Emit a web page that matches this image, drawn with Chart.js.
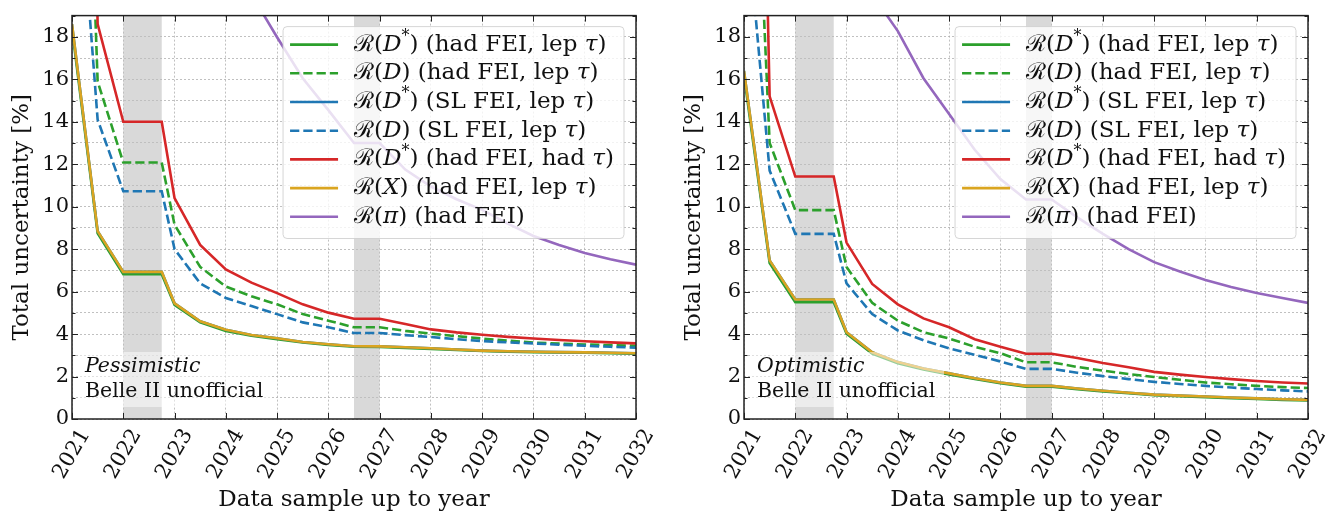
<!DOCTYPE html>
<html>
<head>
<meta charset="utf-8">
<script src="https://cdn.jsdelivr.net/npm/chart.js@4.4.0/dist/chart.umd.min.js"></script>
<style>
  body { margin: 0; background: #fff; }
  .wrap { display: flex; width: 1344px; height: 519px; }
  canvas { display: block; }
</style>
</head>
<body>
<div class="wrap">
  <canvas id="pessChart" width="672" height="519"></canvas>
  <canvas id="optChart" width="672" height="519"></canvas>
</div>
<script>
// x positions of the projection points (years)
const years = [2021, 2021.5, 2022, 2022.75, 2023, 2023.5, 2024, 2024.5, 2025, 2025.5, 2026, 2026.5,
               2027, 2027.5, 2028, 2028.5, 2029, 2029.5, 2030, 2030.5, 2031, 2031.5, 2032];
const yearTicks = [2021, 2022, 2023, 2024, 2025, 2026, 2027, 2028, 2029, 2030, 2031, 2032];

const seriesNames = [
  'ℛ(D*) (had FEI, lep τ)',
  'ℛ(D) (had FEI, lep τ)',
  'ℛ(D*) (SL FEI, lep τ)',
  'ℛ(D) (SL FEI, lep τ)',
  'ℛ(D*) (had FEI, had τ)',
  'ℛ(X) (had FEI, lep τ)',
  'ℛ(π) (had FEI)'
];
const seriesColors = ['#2ca02c', '#2ca02c', '#1f77b4', '#1f77b4', '#d62728', '#daa520', '#9467bd'];
const seriesDashed = [false, true, false, true, false, false, false];

// Pessimistic scenario
const pessDstarHadLep = [18.4, 8.75, 6.82, 6.82, 5.38, 4.55, 4.15, 3.92, 3.76, 3.6, 3.49, 3.4, 3.39, 3.35, 3.3, 3.25, 3.2, 3.17, 3.15, 3.13, 3.12, 3.1, 3.08];
const pessDHadLep     = [50, 15.9, 12.08, 12.08, 9.15, 7.16, 6.24, 5.78, 5.4, 4.94, 4.63, 4.32, 4.32, 4.15, 4.02, 3.9, 3.79, 3.69, 3.6, 3.55, 3.51, 3.48, 3.45];
const pessDstarSlLep  = [18.6, 8.85, 6.93, 6.93, 5.45, 4.6, 4.2, 3.96, 3.8, 3.63, 3.52, 3.43, 3.42, 3.38, 3.33, 3.27, 3.22, 3.19, 3.17, 3.15, 3.14, 3.12, 3.1];
const pessDSlLep      = [30, 14.1, 10.73, 10.73, 8.0, 6.39, 5.7, 5.32, 4.94, 4.55, 4.32, 4.05, 4.05, 3.95, 3.86, 3.76, 3.67, 3.61, 3.56, 3.5, 3.45, 3.4, 3.36];
const pessDstarHadHad = [80, 18.6, 14.0, 14.0, 10.4, 8.2, 7.05, 6.42, 5.93, 5.4, 5.01, 4.72, 4.72, 4.47, 4.22, 4.08, 3.97, 3.87, 3.79, 3.72, 3.66, 3.61, 3.56];
const pessXHadLep     = [18.6, 8.85, 6.93, 6.93, 5.45, 4.6, 4.2, 3.96, 3.8, 3.63, 3.52, 3.43, 3.42, 3.38, 3.33, 3.27, 3.22, 3.19, 3.17, 3.15, 3.14, 3.12, 3.1];
const pessPiHad       = [60, 45, 38, 33, 30, 26, 23, 20, 17.98, 16.05, 14.55, 13.0, 13.0, 11.75, 10.95, 10.35, 9.85, 9.2, 8.62, 8.2, 7.82, 7.52, 7.27];

// Optimistic scenario
const optDstarHadLep = [16.2, 7.35, 5.5, 5.5, 4.02, 3.08, 2.63, 2.33, 2.1, 1.88, 1.68, 1.52, 1.52, 1.4, 1.3, 1.21, 1.12, 1.07, 1.03, 0.98, 0.94, 0.9, 0.87];
const optDHadLep     = [40, 13.0, 9.84, 9.84, 7.16, 5.47, 4.63, 4.09, 3.79, 3.4, 3.1, 2.67, 2.67, 2.45, 2.28, 2.12, 1.98, 1.85, 1.72, 1.64, 1.56, 1.5, 1.46];
const optDstarSlLep  = [16.4, 7.47, 5.63, 5.63, 4.09, 3.14, 2.68, 2.38, 2.15, 1.92, 1.72, 1.56, 1.56, 1.44, 1.33, 1.24, 1.15, 1.1, 1.06, 1.01, 0.97, 0.93, 0.9];
const optDSlLep      = [25, 11.7, 8.72, 8.72, 6.39, 4.94, 4.17, 3.71, 3.33, 3.02, 2.71, 2.36, 2.36, 2.18, 2.02, 1.88, 1.75, 1.65, 1.56, 1.48, 1.41, 1.35, 1.3];
const optDstarHadHad = [70, 15.2, 11.42, 11.42, 8.31, 6.36, 5.4, 4.74, 4.32, 3.76, 3.4, 3.07, 3.07, 2.87, 2.64, 2.44, 2.22, 2.09, 1.98, 1.88, 1.79, 1.72, 1.67];
const optXHadLep     = [16.4, 7.47, 5.63, 5.63, 4.09, 3.14, 2.68, 2.38, 2.15, 1.92, 1.72, 1.56, 1.56, 1.44, 1.33, 1.24, 1.15, 1.1, 1.06, 1.01, 0.97, 0.93, 0.9];
const optPiHad       = [40, 32, 27, 24, 22, 20, 18.27, 16.05, 14.37, 12.68, 11.3, 10.34, 10.34, 9.5, 8.72, 8.0, 7.39, 6.95, 6.55, 6.22, 5.93, 5.7, 5.47];

// shutdown periods shaded in gray
const shadedPeriods = [[2022, 2022.75], [2026.5, 2027]];

const FONT = "'DejaVu Serif', serif";

function drawRichText(ctx, text, x, y, size) {
  let cx = x;
  for (const ch of text) {
    let dy = 0;
    if ('DXτπ'.includes(ch)) {
      ctx.font = 'italic ' + size + 'px ' + FONT;
    } else if (ch === '*') {
      ctx.font = Math.round(size * 0.7) + 'px ' + FONT;
      dy = -size * 0.35;
    } else {
      ctx.font = size + 'px ' + FONT;
    }
    ctx.fillText(ch, cx, y + dy);
    cx += ctx.measureText(ch).width;
  }
  return cx - x;
}

function roundRect(ctx, x, y, w, h, r) {
  ctx.beginPath();
  ctx.moveTo(x + r, y);
  ctx.arcTo(x + w, y, x + w, y + h, r);
  ctx.arcTo(x + w, y + h, x, y + h, r);
  ctx.arcTo(x, y + h, x, y, r);
  ctx.arcTo(x, y, x + w, y, r);
  ctx.closePath();
}

const decorPlugin = {
  id: 'decor',
  beforeDatasetsDraw(chart) {
    const { ctx, chartArea: a, scales: { x } } = chart;
    ctx.save();
    ctx.fillStyle = 'rgba(190,190,190,0.58)';
    shadedPeriods.forEach(p => {
      const x0 = x.getPixelForValue(p[0]);
      const x1 = x.getPixelForValue(p[1]);
      ctx.fillRect(x0, a.top, x1 - x0, a.bottom - a.top);
    });
    ctx.restore();
  },
  afterDatasetsDraw(chart) {
    const { ctx, chartArea: a, scales: { x, y } } = chart;
    const note = chart.options.plugins.decor.note;
    ctx.save();

    // inward ticks on all four sides
    ctx.strokeStyle = '#222';
    ctx.lineWidth = 1;
    ctx.beginPath();
    yearTicks.forEach(yr => {
      const px = Math.round(x.getPixelForValue(yr)) + 0.5;
      ctx.moveTo(px, a.bottom); ctx.lineTo(px, a.bottom - 6);
      ctx.moveTo(px, a.top); ctx.lineTo(px, a.top + 6);
    });
    for (let v = 0; v <= 19; v++) {
      const py = Math.round(y.getPixelForValue(v)) + 0.5;
      const len = v % 2 === 0 ? 6 : 3.5;
      ctx.moveTo(a.left, py); ctx.lineTo(a.left + len, py);
      ctx.moveTo(a.right, py); ctx.lineTo(a.right - len, py);
    }
    ctx.stroke();

    // frame
    ctx.lineWidth = 1.5;
    ctx.strokeRect(a.left, a.top, a.right - a.left, a.bottom - a.top);

    // rotated year labels, centred under each tick
    ctx.fillStyle = '#111';
    ctx.font = '21px ' + FONT;
    ctx.textAlign = 'center';
    ctx.textBaseline = 'middle';
    const ang = Math.PI / 3;
    yearTicks.forEach(yr => {
      const label = String(yr);
      const w = ctx.measureText(label).width;
      const h = 16;
      const H = w * Math.sin(ang) + h * Math.cos(ang);
      ctx.save();
      ctx.translate(x.getPixelForValue(yr), a.bottom + 8 + H / 2);
      ctx.rotate(-ang);
      ctx.fillText(label, 0, 0);
      ctx.restore();
    });
    ctx.textAlign = 'left';

    // scenario note
    ctx.fillStyle = 'rgba(255,255,255,0.5)';
    roundRect(ctx, a.left + 8, a.bottom - 67, 192, 55, 4);
    ctx.fill();
    ctx.fillStyle = '#111';
    ctx.textBaseline = 'middle';
    ctx.font = 'italic 20.5px ' + FONT;
    ctx.fillText(note, a.left + 13, a.bottom - 52);
    ctx.font = '20.5px ' + FONT;
    ctx.fillText('Belle II unofficial', a.left + 13, a.bottom - 27);

    // legend
    const rowH = 28.7;
    const fs = 23;
    let maxW = 0;
    ctx.globalAlpha = 0;
    seriesNames.forEach(n => { maxW = Math.max(maxW, drawRichText(ctx, n, 0, 0, fs)); });
    ctx.globalAlpha = 1;
    const boxW = 71 + maxW + 10;
    const boxH = rowH * seriesNames.length + 11;
    const bx = a.right - 12 - boxW;
    const by = a.top + 11;
    ctx.fillStyle = 'rgba(255,255,255,0.8)';
    ctx.strokeStyle = 'rgba(204,204,204,0.8)';
    ctx.lineWidth = 1;
    roundRect(ctx, bx, by, boxW, boxH, 4);
    ctx.fill();
    ctx.stroke();
    seriesNames.forEach((n, i) => {
      const cy = by + 18 + i * rowH;
      ctx.strokeStyle = seriesColors[i];
      ctx.lineWidth = 2.6;
      ctx.setLineDash(seriesDashed[i] ? [9.25, 4] : []);
      ctx.beginPath();
      ctx.moveTo(bx + 7, cy);
      ctx.lineTo(bx + 55, cy);
      ctx.stroke();
      ctx.setLineDash([]);
      ctx.fillStyle = '#111';
      ctx.textBaseline = 'middle';
      drawRichText(ctx, n, bx + 71, cy, fs);
    });
    ctx.restore();
  }
};

function makeChart(id, seriesData, note) {
  const datasets = seriesData.map((vals, i) => ({
    label: seriesNames[i],
    data: years.map((yr, k) => ({ x: yr, y: vals[k] })),
    borderColor: seriesColors[i],
    borderWidth: 2.6,
    borderDash: seriesDashed[i] ? [9.25, 4] : [],
    pointRadius: 0,
    tension: 0,
    fill: false,
    order: seriesData.length - i
  }));

  return new Chart(document.getElementById(id), {
    type: 'line',
    data: { datasets: datasets },
    plugins: [decorPlugin],
    options: {
      responsive: false,
      animation: false,
      devicePixelRatio: 1,
      layout: { padding: { top: 6, right: 36, left: 0, bottom: 0 } },
      plugins: {
        legend: { display: false },
        tooltip: { enabled: false },
        decor: { note: note }
      },
      scales: {
        x: {
          type: 'linear',
          min: 2021,
          max: 2032,
          afterFit(scale) { scale.height = 100; },
          ticks: { stepSize: 1, autoSkip: false, display: false },
          grid: { color: '#b0b0b0', lineWidth: 0.8, drawTicks: false },
          border: { display: false, dash: [2, 2] },
          title: {
            display: true,
            text: 'Data sample up to year',
            color: '#111',
            font: { family: FONT, size: 23 },
            padding: { top: 0, bottom: 5 }
          }
        },
        y: {
          min: 0,
          max: 19,
          afterFit(scale) { scale.width = 72; },
          ticks: {
            stepSize: 1,
            autoSkip: false,
            padding: 3,
            color: '#111',
            font: { family: FONT, size: 21 },
            callback: v => (v % 2 === 0 ? String(v) : '')
          },
          grid: { color: '#b0b0b0', lineWidth: 0.8, drawTicks: false },
          border: { display: false, dash: [2, 2] },
          title: {
            display: true,
            text: 'Total uncertainty [%]',
            color: '#111',
            font: { family: FONT, size: 23 },
            padding: { top: 8, bottom: 4 }
          }
        }
      }
    }
  });
}

makeChart('pessChart',
  [pessDstarHadLep, pessDHadLep, pessDstarSlLep, pessDSlLep, pessDstarHadHad, pessXHadLep, pessPiHad],
  'Pessimistic');
makeChart('optChart',
  [optDstarHadLep, optDHadLep, optDstarSlLep, optDSlLep, optDstarHadHad, optXHadLep, optPiHad],
  'Optimistic');
</script>
</body>
</html>
